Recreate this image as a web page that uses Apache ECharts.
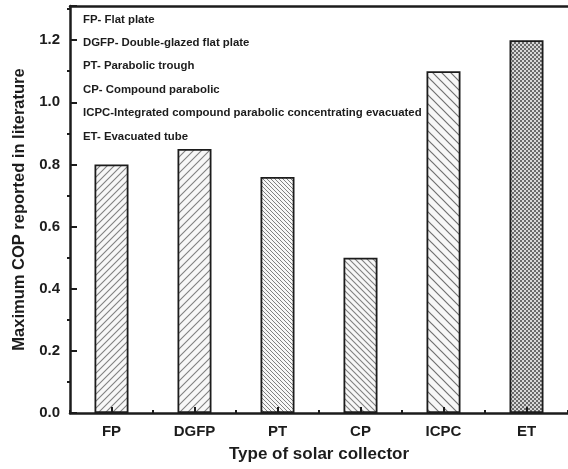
<!DOCTYPE html>
<html>
<head>
<meta charset="utf-8">
<script src="https://cdn.jsdelivr.net/npm/echarts@6/dist/echarts.min.js"></script>
<style>
  html, body { margin: 0; padding: 0; background: #fff; }
  #chart { width: 568px; height: 469px; }
</style>
</head>
<body>
<div id="chart"></div>
<script>
// chart data
const categories = ['FP', 'DGFP', 'PT', 'CP', 'ICPC', 'ET'];
const copValues = [0.8, 0.85, 0.76, 0.5, 1.1, 1.2];
const abbreviations = [
    'FP- Flat plate',
    'DGFP- Double-glazed flat plate',
    'PT- Parabolic trough',
    'CP- Compound parabolic',
    'ICPC-Integrated compound parabolic concentrating evacuated',
    'ET- Evacuated tube'
];

const ink = '#1c1c1c';
const font = 'Liberation Sans, Arial, sans-serif';
const yMax = 1.31;

// hatch pattern tiles
const makeHatch = (size, dir, lineColor, lineWidth) => {
    const c = document.createElement('canvas');
    c.width = size;
    c.height = size;
    const ctx = c.getContext('2d');
    ctx.fillStyle = '#f7f7f7';
    ctx.fillRect(0, 0, size, size);
    ctx.strokeStyle = lineColor;
    ctx.lineWidth = lineWidth;
    ctx.beginPath();
    if (dir === '/') {
        ctx.moveTo(0, size); ctx.lineTo(size, 0);
        ctx.moveTo(-size / 2, size / 2); ctx.lineTo(size / 2, -size / 2);
        ctx.moveTo(size / 2, size * 1.5); ctx.lineTo(size * 1.5, size / 2);
    } else {
        ctx.moveTo(0, 0); ctx.lineTo(size, size);
        ctx.moveTo(-size / 2, size / 2); ctx.lineTo(size / 2, size * 1.5);
        ctx.moveTo(size / 2, -size / 2); ctx.lineTo(size * 1.5, size / 2);
    }
    ctx.stroke();
    return c;
};

const makeChecker = () => {
    const c = document.createElement('canvas');
    c.width = 4;
    c.height = 4;
    const ctx = c.getContext('2d');
    ctx.fillStyle = '#d8d8d8';
    ctx.fillRect(0, 0, 4, 4);
    ctx.fillStyle = '#6a6a6a';
    ctx.fillRect(0, 0, 2, 2);
    ctx.fillRect(2, 2, 2, 2);
    return c;
};

const patterns = [
    makeHatch(7, '/', '#808080', 1.1),
    makeHatch(8, '/', '#808080', 1.1),
    makeHatch(4, '\\', '#808080', 1),
    makeHatch(6, '\\', '#808080', 1.1),
    makeHatch(9, '\\', '#707070', 1.2),
    makeChecker()
];

const barData = copValues.map((v, i) => ({
    value: v,
    itemStyle: {
        color: { image: patterns[i], repeat: 'repeat' },
        borderColor: ink,
        borderWidth: 1.8
    }
}));

const chart = echarts.init(document.getElementById('chart'));

const option = {
    animation: false,
    grid: { left: 70, right: -2, top: 6, bottom: 56 },
    graphic: abbreviations.map((t, i) => ({
        type: 'text',
        left: 83,
        top: 14 + i * 23.4,
        style: { text: t, font: 'bold 11.4px ' + font, fill: ink }
    })),
    xAxis: [
        {
            type: 'category',
            data: categories,
            position: 'bottom',
            z: 5,
            name: 'Type of solar collector',
            nameLocation: 'middle',
            nameGap: 33,
            nameTextStyle: { fontFamily: font, fontWeight: 'bold', fontSize: 17, color: ink },
            axisLine: { lineStyle: { color: ink, width: 2.5 } },
            axisTick: { show: true, alignWithLabel: true, inside: true, length: 6, lineStyle: { color: ink, width: 2 } },
            axisLabel: { fontFamily: font, fontWeight: 'bold', fontSize: 15, color: ink, margin: 11 }
        },
        {
            type: 'category',
            data: categories,
            position: 'bottom',
            z: 5,
            axisLine: { show: false },
            axisTick: { show: true, inside: true, length: 3, lineStyle: { color: ink, width: 2 } },
            axisLabel: { show: false }
        },
        {
            type: 'category',
            data: categories,
            position: 'top',
            z: 5,
            axisLine: { lineStyle: { color: ink, width: 2.5 } },
            axisTick: { show: false },
            axisLabel: { show: false }
        }
    ],
    yAxis: {
        type: 'value',
        min: 0,
        max: yMax,
        interval: 0.2,
        z: 5,
        name: 'Maximum COP reported in literature',
        nameLocation: 'middle',
        nameGap: 41,
        nameTextStyle: { fontFamily: font, fontWeight: 'bold', fontSize: 16.5, color: ink },
        axisLine: { show: true, lineStyle: { color: ink, width: 2.5 } },
        axisTick: { show: false },
        minorTick: { show: true, splitNumber: 2, length: 3, lineStyle: { color: ink, width: 2 } },
        // short dashed split lines act as the inward major ticks
        splitLine: { show: true, lineStyle: { color: ink, width: 2, type: [7, 2000] } },
        axisLabel: {
            fontFamily: font, fontWeight: 'bold', fontSize: 15, color: ink, margin: 10,
            showMaxLabel: false,
            formatter: v => v.toFixed(1)
        }
    },
    series: [
        {
            type: 'bar',
            barWidth: 34,
            z: 2,
            data: barData
        }
    ]
};

chart.setOption(option);
</script>
</body>
</html>
